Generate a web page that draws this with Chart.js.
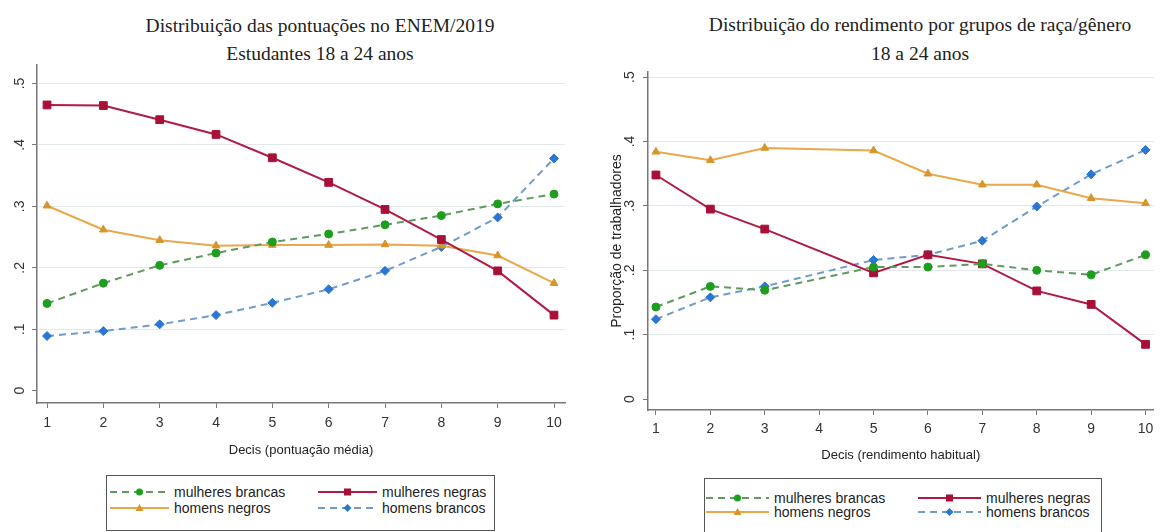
<!DOCTYPE html>
<html lang="pt">
<head>
<meta charset="utf-8">
<script src="https://cdn.jsdelivr.net/npm/chart.js@4.4.1/dist/chart.umd.min.js"></script>
<style>
  body { margin: 0; background: #fff; width: 1160px; height: 532px; position: relative; overflow: hidden;
         font-family: "Liberation Sans", Arial, sans-serif; }
  canvas { position: absolute; top: 0; }
  .titulo { position: absolute; width: 520px; text-align: center; color: #222;
            font-family: "Liberation Serif", "Times New Roman", serif; font-size: 19.5px; }
  .legenda { position: absolute; border: 1px solid #555; background: #fff; box-sizing: border-box; }
  .item { position: absolute; display: flex; align-items: center; font-size: 14px; color: #222; white-space: nowrap; }
  .item svg { margin-right: 5px; }
</style>
</head>
<body>
<div class="titulo" id="t1" style="left:60px; top:12px; line-height:28px;">Distribuição das pontuações no ENEM/2019<br>Estudantes 18 a 24 anos</div>
<div class="titulo" id="t2" style="left:660px; top:10px; line-height:29px;">Distribuição do rendimento por grupos de raça/gênero<br>18 a 24 anos</div>
<canvas id="enem" width="580" height="470" style="left:0"></canvas>
<canvas id="rend" width="580" height="480" style="left:580px"></canvas>
<div class="legenda" id="leg1" style="left:106px; top:475px; width:389px; height:56px;"></div>
<div class="legenda" id="leg2" style="left:704px; top:478px; width:398px; height:60px;"></div>

<script>
// dados
const decis = [1, 2, 3, 4, 5, 6, 7, 8, 9, 10];
const yTicks = [0, 0.1, 0.2, 0.3, 0.4, 0.5];
const yTickLabels = ["0", ".1", ".2", ".3", ".4", ".5"];
const grupos = ["mulheres brancas", "mulheres negras", "homens negros", "homens brancos"];

// ENEM/2019 - pontuação média
const enemMulheresBrancas = [0.142, 0.175, 0.204, 0.224, 0.242, 0.255, 0.270, 0.285, 0.304, 0.320];
const enemMulheresNegras  = [0.465, 0.464, 0.441, 0.417, 0.379, 0.339, 0.295, 0.246, 0.195, 0.123];
const enemHomensNegros    = [0.301, 0.262, 0.245, 0.236, 0.237, 0.237, 0.238, 0.236, 0.220, 0.175];
const enemHomensBrancos   = [0.089, 0.097, 0.108, 0.123, 0.143, 0.165, 0.195, 0.234, 0.282, 0.378];

// rendimento habitual (decil 4 sem valor)
const rendMulheresBrancas = [0.143, 0.175, 0.169, null, 0.205, 0.205, 0.210, 0.200, 0.193, 0.224];
const rendMulheresNegras  = [0.348, 0.295, 0.264, null, 0.196, 0.224, 0.210, 0.168, 0.147, 0.085];
const rendHomensNegros    = [0.384, 0.371, 0.390, null, 0.386, 0.350, 0.333, 0.333, 0.312, 0.304];
const rendHomensBrancos   = [0.124, 0.158, 0.175, null, 0.216, 0.224, 0.246, 0.299, 0.349, 0.387];

const fontSans = "'Liberation Sans', Arial, sans-serif";

// estilo de cada grupo (mesma ordem de "grupos")
const estilos = [
  { line: "#5f9a5f", point: "#1e9e1e", dash: [7, 5], shape: "circle", r: 4 },
  { line: "#b01a45", point: "#a81038", dash: [], shape: "rect", r: 5.5 },
  { line: "#eaa84c", point: "#d6962c", dash: [], shape: "triangle", r: 4.5 },
  { line: "#6f9cc8", point: "#2a76d2", dash: [7, 5], shape: "rectRot", r: 4.5 },
];

function makeChart(id, cfg) {
  const datasets = cfg.values.map((vals, i) => {
    const st = estilos[i];
    return {
      label: grupos[i],
      data: decis.map((d, k) => ({ x: d, y: vals[k] })),
      borderColor: st.line,
      backgroundColor: st.point,
      pointBackgroundColor: st.point,
      pointBorderColor: st.point,
      pointBorderWidth: 1,
      borderWidth: 2,
      borderDash: st.dash,
      pointStyle: st.shape,
      pointRadius: st.r,
      pointHoverRadius: st.r,
      spanGaps: true,
      tension: 0,
    };
  });

  return new Chart(document.getElementById(id), {
    type: "line",
    data: { datasets },
    options: {
      responsive: false,
      animation: false,
      events: [],
      layout: { padding: cfg.padding },
      plugins: { legend: { display: false }, tooltip: { enabled: false } },
      scales: {
        x: {
          type: "linear",
          min: cfg.xMin,
          max: cfg.xMax,
          afterBuildTicks: (s) => { s.ticks = decis.map((v) => ({ value: v })); },
          afterFit: (s) => { s.height = cfg.xHeight; },
          grid: { drawOnChartArea: false, drawTicks: true, tickLength: 5, tickColor: "#777", tickWidth: 1 },
          border: { color: "#777", width: 1.5 },
          ticks: {
            autoSkip: false, maxRotation: 0, minRotation: 0,
            padding: cfg.xTickPad, color: "#333",
            font: { family: fontSans, size: 14 },
            callback: (v) => String(v),
          },
          title: {
            display: true, text: cfg.xTitle, color: "#222",
            font: { family: fontSans, size: 13 },
            padding: { top: 0, bottom: cfg.xTitlePad },
          },
        },
        y: {
          min: cfg.yMin,
          max: cfg.yMax,
          afterBuildTicks: (s) => { s.ticks = yTicks.map((v) => ({ value: v })); },
          afterFit: (s) => { s.width = cfg.yWidth; },
          grid: {
            color: (c) => (c.tick && c.tick.value === 0 ? "rgba(0,0,0,0)" : "#e3e9eb"),
            lineWidth: 1, tickColor: "#777", tickLength: 5, tickWidth: 1,
          },
          border: { color: "#777", width: 1.5 },
          ticks: {
            minRotation: 90, maxRotation: 90, crossAlign: "center",
            padding: cfg.yTickPad, color: "#333",
            font: { family: fontSans, size: 14 },
            callback: (v) => yTickLabels[yTicks.indexOf(v)],
          },
          title: {
            display: !!cfg.yTitle, text: cfg.yTitle || "", color: "#222",
            font: { family: fontSans, size: 14 },
            padding: { top: cfg.yTitlePad || 0, bottom: 0 },
          },
        },
      },
    },
  });
}

makeChart("enem", {
  values: [enemMulheresBrancas, enemMulheresNegras, enemHomensNegros, enemHomensBrancos],
  padding: { left: 0, right: 15, top: 65, bottom: 0 },
  xMin: 0.822, xMax: 10.195, yMin: -0.02, yMax: 0.53,
  xHeight: 67, yWidth: 37, xTickPad: 7, yTickPad: 6, xTitlePad: 12,
  xTitle: "Decis (pontuação média)",
});

makeChart("rend", {
  values: [rendMulheresBrancas, rendMulheresNegras, rendHomensNegros, rendHomensBrancos],
  padding: { left: 0, right: 4, top: 72, bottom: 0 },
  xMin: 0.854, xMax: 10.146, yMin: -0.017, yMax: 0.508,
  xHeight: 70, yWidth: 68, xTickPad: 6, yTickPad: 7, xTitlePad: 17,
  xTitle: "Decis (rendimento habitual)",
  yTitle: "Proporção de trabalhadores", yTitlePad: 29,
});

// legenda em HTML com o símbolo de cada série
function simbolo(st, w) {
  const c = 7;
  const m = w / 2;
  let marca = "";
  if (st.shape === "circle") marca = `<circle cx="${m}" cy="${c}" r="3.5" fill="${st.point}"/>`;
  else if (st.shape === "rect") marca = `<rect x="${m - 3.5}" y="${c - 3.5}" width="7" height="7" fill="${st.point}"/>`;
  else if (st.shape === "triangle") marca = `<polygon points="${m},${c - 4} ${m + 4},${c + 3} ${m - 4},${c + 3}" fill="${st.point}"/>`;
  else marca = `<polygon points="${m},${c - 4} ${m + 4},${c} ${m},${c + 4} ${m - 4},${c}" fill="${st.point}"/>`;
  const dash = st.dash.length ? `stroke-dasharray="${st.dash.join(" ")}"` : "";
  return `<svg width="${w}" height="14"><line x1="0" y1="${c}" x2="${w}" y2="${c}" stroke="${st.line}" stroke-width="2" ${dash}/>${marca}</svg>`;
}

function legenda(id, cfg) {
  const box = document.getElementById(id);
  grupos.forEach((g, i) => {
    const col = i % 2, row = Math.floor(i / 2);
    const el = document.createElement("div");
    el.className = "item";
    el.style.left = (cfg.x0 + col * cfg.colGap) + "px";
    el.style.top = (cfg.y0 + row * cfg.rowGap) + "px";
    el.innerHTML = simbolo(estilos[i], cfg.w) + `<span>${g}</span>`;
    box.appendChild(el);
  });
}

legenda("leg1", { x0: 3, colGap: 208, y0: 8, rowGap: 16, w: 59 });
legenda("leg2", { x0: 1, colGap: 212, y0: 11, rowGap: 14, w: 63 });
</script>
</body>
</html>
